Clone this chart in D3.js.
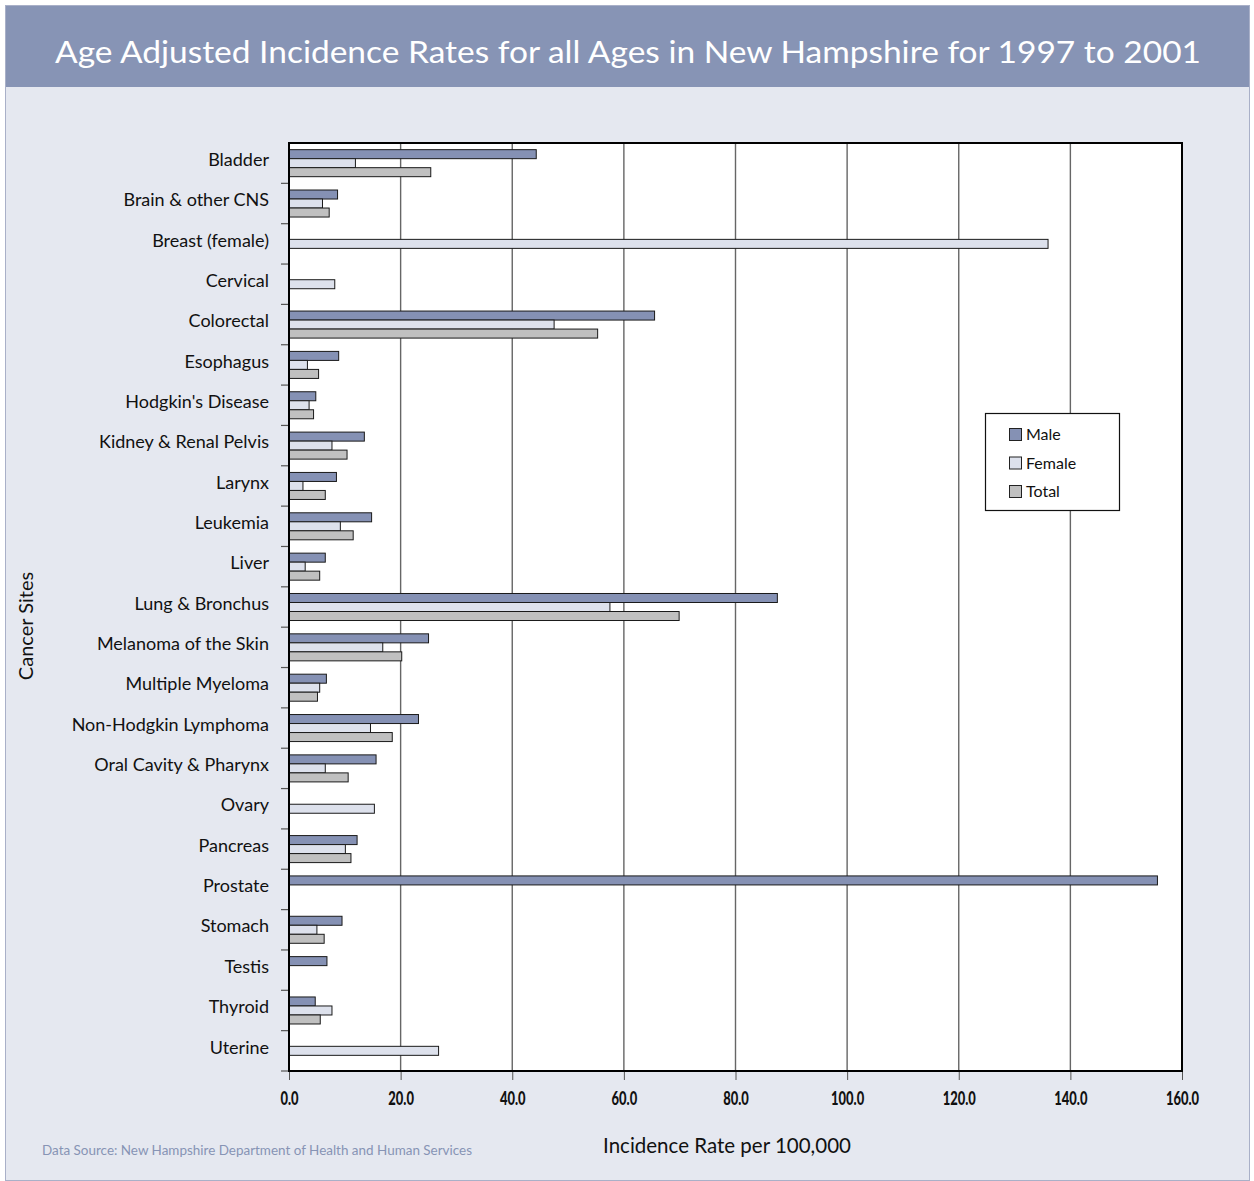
<!DOCTYPE html>
<html><head><meta charset="utf-8">
<script src="https://cdn.jsdelivr.net/npm/d3@7"></script>
<style>
body{margin:0;background:#fff;}
svg{display:block;}
</style></head>
<body>
<script>
const categories = ["Bladder","Brain & other CNS","Breast (female)","Cervical","Colorectal","Esophagus","Hodgkin's Disease","Kidney & Renal Pelvis","Larynx","Leukemia","Liver","Lung & Bronchus","Melanoma of the Skin","Multiple Myeloma","Non-Hodgkin Lymphoma","Oral Cavity & Pharynx","Ovary","Pancreas","Prostate","Stomach","Testis","Thyroid","Uterine"];
const seriesNames = ["Male","Female","Total"];
const maleValues   = [44.3, 8.7, null, null, 65.5, 8.9, 4.8, 13.5, 8.5, 14.8, 6.5, 87.5, 25.0, 6.7, 23.2, 15.6, null, 12.2, 155.6, 9.5, 6.8, 4.7, null];
const femaleValues = [11.9, 6.0, 136.0, 8.2, 47.5, 3.3, 3.6, 7.7, 2.5, 9.2, 2.9, 57.5, 16.8, 5.5, 14.6, 6.5, 15.3, 10.1, null, 5.0, null, 7.7, 26.8];
const totalValues  = [25.4, 7.2, null, null, 55.3, 5.3, 4.4, 10.4, 6.5, 11.5, 5.5, 69.9, 20.2, 5.1, 18.5, 10.6, null, 11.1, null, 6.3, null, 5.6, null];
const xTicks = [0,20,40,60,80,100,120,140,160];
const titleText = "Age Adjusted Incidence Rates for all Ages in New Hampshire for 1997 to 2001";
const xTitle = "Incidence Rate per 100,000";
const yTitle = "Cancer Sites";
const sourceText = "Data Source: New Hampshire Department of Health and Human Services";
const colors = ["#8591b4","#dde1ec","#c0c0c0"];

const FONT = "Lato, 'Open Sans', sans-serif";
const W = 1254, H = 1181;
const svg = d3.select("body").append("svg").attr("width", W).attr("height", H);

// panel
svg.append("rect").attr("x",5.5).attr("y",5.5).attr("width",1244).attr("height",1175)
  .attr("fill","#e5e8f0").attr("stroke","#a9b0c8").attr("stroke-width",1);
svg.append("rect").attr("x",6).attr("y",6).attr("width",1243).attr("height",81).attr("fill","#8794b5");
svg.append("text").attr("x",628).attr("y",63).attr("text-anchor","middle")
  .attr("fill","#fff").attr("font-family",FONT).attr("font-size",31)
  .attr("textLength",1146).attr("lengthAdjust","spacingAndGlyphs")
  .text(titleText);

const m = {left:289, right:1182, top:143, bottom:1071};
const x = d3.scaleLinear().domain([0,160]).range([m.left, m.right]);
const y = d3.scaleBand().domain(categories).range([m.top, m.bottom]).paddingInner(0).paddingOuter(0);
const inner = d3.scaleBand().domain(seriesNames).range([0, y.bandwidth()]).paddingOuter(0.74).paddingInner(0);

svg.append("rect").attr("x",m.left).attr("y",m.top).attr("width",m.right-m.left).attr("height",m.bottom-m.top).attr("fill","#fff");

// grid
svg.append("g").selectAll("line").data(xTicks.slice(1,-1)).join("line")
  .attr("x1",d=>x(d)).attr("x2",d=>x(d)).attr("y1",m.top).attr("y2",m.bottom)
  .attr("stroke","#666").attr("stroke-width",1.4);

// bars
const series = [maleValues, femaleValues, totalValues];
const rows = [];
categories.forEach((c,i)=>{
  seriesNames.forEach((s,j)=>{
    const v = series[j][i];
    if (v != null) rows.push({c, s, v, j});
  });
});
svg.append("g").selectAll("rect").data(rows).join("rect")
  .attr("x", x(0))
  .attr("y", d => y(d.c) + inner(d.s))
  .attr("width", d => x(d.v) - x(0))
  .attr("height", inner.bandwidth())
  .attr("fill", d => colors[d.j])
  .attr("stroke", "#1a1a1a").attr("stroke-width", 1);

// x axis
const xAxis = d3.axisBottom(x).tickValues(xTicks).tickFormat(d3.format(".1f")).tickSize(9).tickPadding(12);
const gx = svg.append("g").attr("transform",`translate(0,${m.bottom})`).call(xAxis);
gx.select(".domain").remove();
gx.selectAll(".tick line").attr("stroke","#555");
gx.selectAll("text").attr("font-family",FONT)
  .attr("font-weight",900).attr("font-size",18).attr("fill","#111")
  .each(function(){ const l = this.getComputedTextLength(); d3.select(this).attr("textLength", l*0.72).attr("lengthAdjust","spacingAndGlyphs"); });

// y axis
const yAxis = d3.axisLeft(y).tickSize(0).tickPadding(20);
const gy = svg.append("g").attr("transform",`translate(${m.left},0)`).call(yAxis);
gy.select(".domain").remove();
gy.selectAll("text").attr("font-family",FONT).attr("font-size",18).attr("fill","#111").attr("dy","0.15em");
// boundary ticks
svg.append("g").selectAll("line").data(categories).join("line")
  .attr("x1",m.left-8).attr("x2",m.left).attr("y1",d=>y(d)+y.bandwidth()).attr("y2",d=>y(d)+y.bandwidth())
  .attr("stroke","#555").attr("stroke-width",1.2);

// frame
svg.append("rect").attr("x",m.left).attr("y",m.top).attr("width",m.right-m.left).attr("height",m.bottom-m.top)
  .attr("fill","none").attr("stroke","#000").attr("stroke-width",2);

// titles
svg.append("text").attr("x",727).attr("y",1153).attr("text-anchor","middle")
  .attr("font-family",FONT).attr("font-size",20.5).attr("fill","#111").text(xTitle);
svg.append("text").attr("transform","translate(33,626) rotate(-90)").attr("text-anchor","middle")
  .attr("font-family",FONT).attr("font-size",20).attr("fill","#111").text(yTitle);
svg.append("text").attr("x",42).attr("y",1155)
  .attr("font-family",FONT).attr("font-size",12.5).attr("fill","#8794b5")
  .attr("textLength",430).attr("lengthAdjust","spacingAndGlyphs").text(sourceText);

// legend
const lg = svg.append("g");
lg.append("rect").attr("x",985.5).attr("y",413.5).attr("width",134).attr("height",97).attr("fill","#fff").attr("stroke","#111").attr("stroke-width",1.2);
seriesNames.forEach((s,i)=>{
  const yy = 428 + i*28.5;
  lg.append("rect").attr("x",1009.5).attr("y",yy+0.5).attr("width",12).attr("height",12).attr("fill",colors[i]).attr("stroke","#222");
  lg.append("text").attr("x",1026).attr("y",yy+12).attr("font-family",FONT).attr("font-size",16).attr("fill","#111").text(s);
});
</script>
</body></html>
